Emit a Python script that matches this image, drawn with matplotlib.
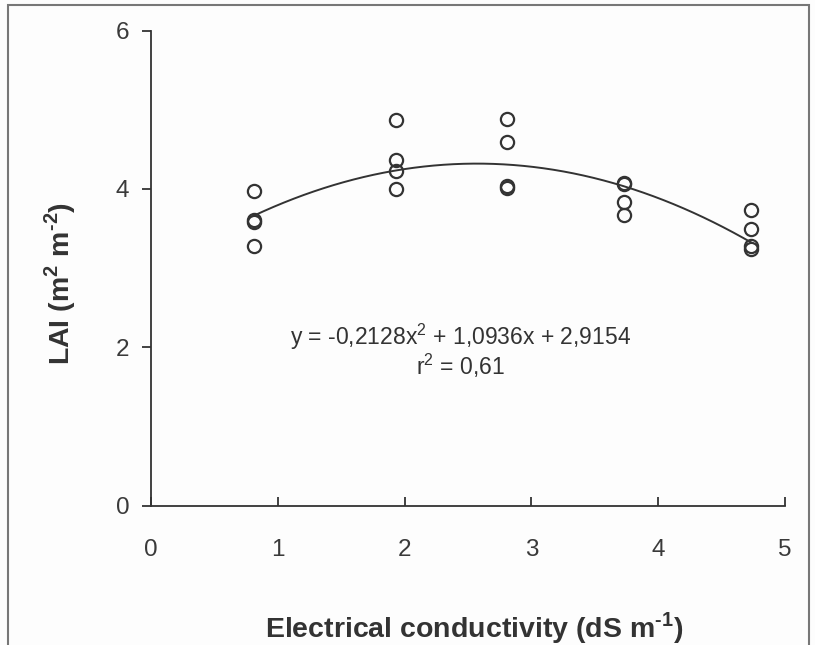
import numpy as np
import matplotlib
matplotlib.use('Agg')
import matplotlib.pyplot as plt
from matplotlib.patches import Rectangle

plt.rcParams['font.family'] = ['Liberation Sans', 'DejaVu Sans']
plt.rcParams['mathtext.fontset'] = 'custom'
plt.rcParams['mathtext.rm'] = 'Liberation Sans'
plt.rcParams['mathtext.bf'] = 'Liberation Sans:bold'

# electrical conductivity levels and measured LAI (four replicates each)
ec = [0.81, 0.81, 0.81, 0.81,
      1.93, 1.93, 1.93, 1.93,
      2.81, 2.81, 2.81, 2.81,
      3.73, 3.73, 3.73, 3.73,
      4.73, 4.73, 4.73, 4.73]
lai = [3.97, 3.61, 3.58, 3.28,
       4.87, 4.37, 4.23, 4.00,
       4.88, 4.59, 4.04, 4.01,
       4.08, 4.06, 3.83, 3.67,
       3.73, 3.50, 3.28, 3.24]

# fitted quadratic (from the equation on the chart)
coef = [-0.2128, 1.0936, 2.9154]
eq_text = 'y = -0,2128x$^\\mathrm{2}$ + 1,0936x + 2,9154'
r2_text = 'r$^\\mathrm{2}$ = 0,61'

xticks = [0, 1, 2, 3, 4, 5]
yticks = [0, 2, 4, 6]

dark = '#333333'

fig = plt.figure(figsize=(8.15, 6.45), dpi=100)
fig.patch.set_facecolor('#fdfdfd')
ax = fig.add_axes([151/815, 1-505.5/645, (785-151)/815, (505.5-30.7)/645])
ax.set_facecolor('#fdfdfd')

xf = np.linspace(min(ec), max(ec), 200)
ax.plot(xf, np.polyval(coef, xf), color=dark, lw=1.4, zorder=2)
ax.plot(ec, lai, 'o', ms=9.5, mfc='none', mec=dark, mew=1.6, zorder=3)

ax.text(2.44, 2.13, eq_text, ha='center', va='center', fontsize=16.5, color=dark)
ax.text(2.44, 1.76, r2_text, ha='center', va='center', fontsize=16.5, color=dark)

ax.set_xlim(0, 5)
ax.set_ylim(0, 6)
ax.set_xticks(xticks)
ax.set_yticks(yticks)
for s in ['top', 'right']:
    ax.spines[s].set_visible(False)
for s in ['left', 'bottom']:
    ax.spines[s].set_color(dark)
    ax.spines[s].set_linewidth(1.3)
ax.tick_params(axis='x', direction='in', length=6.5, width=1.3, color=dark,
               labelsize=17.5, labelcolor='#3a3a3a', pad=24)
ax.tick_params(axis='y', direction='out', length=6.5, width=1.3, color=dark,
               labelsize=17.5, labelcolor='#3a3a3a', pad=9)

fig.text(474/815, 1-628/645, 'Electrical conductivity (dS m$^\\mathbf{\u2010 1}$)',
         ha='center', va='center', fontsize=20.5, fontweight='bold', color=dark)
fig.text(60/815, 1-283/645, 'LAI (m$^\\mathbf{2}$ m$^\\mathbf{\u2010 2}$)',
         ha='center', va='center', rotation=90, fontsize=20.5, fontweight='bold', color=dark)

# frame around the figure
fig.patches.append(Rectangle((8/815, -0.01), (809-8)/815, 1-5/645+0.01,
                             transform=fig.transFigure, fill=False,
                             edgecolor='#777777', lw=1.5))

fig.savefig('out.png', dpi=100, facecolor=fig.get_facecolor())
